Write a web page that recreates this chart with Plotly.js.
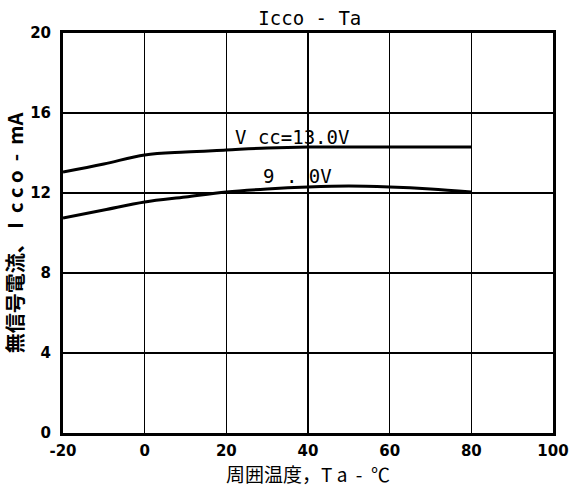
<!DOCTYPE html>
<html>
<head>
<meta charset="utf-8">
<script src="https://cdn.plot.ly/plotly-3.0.1.min.js"></script>
<style>html,body{margin:0;padding:0;background:#fff;}#chart{width:577px;height:492px;}</style>
</head>
<body>
<div id="chart"></div>
<script>
// Ambient temperature, Ta (°C)
const temps = [-20, -10, 0, 10, 20, 30, 40, 50, 60, 70, 80];
// Quiescent current Icco (mA) at Vcc = 13.0 V
const icco13 = [13.05, 13.45, 13.9, 14.05, 14.15, 14.25, 14.3, 14.3, 14.3, 14.3, 14.3];
// Quiescent current Icco (mA) at Vcc = 9.0 V
const icco9 = [10.75, 11.15, 11.55, 11.8, 12.05, 12.2, 12.3, 12.35, 12.3, 12.2, 12.05];

const xTicks = [-20, 0, 20, 40, 60, 80, 100];
const yTicks = [0, 4, 8, 12, 16, 20];

const labels = [
  {x: 36, y: 14.8, text: 'V cc=13.0V'},
  {x: 37.5, y: 12.85, text: '9 . 0V'}
];

const mono = 'DejaVu Sans Mono, monospace';
const tickFont = {family: 'DejaVu Sans, Arial, sans-serif', size: 15, color: '#000', weight: 'bold'};

const traces = [
  {x: temps, y: icco13, mode: 'lines', line: {color: '#000', width: 3, shape: 'spline'}, hoverinfo: 'skip'},
  {x: temps, y: icco9, mode: 'lines', line: {color: '#000', width: 3, shape: 'spline'}, hoverinfo: 'skip'}
];

const layout = {
  width: 577, height: 492,
  margin: {l: 63, r: 24, t: 33, b: 59},
  paper_bgcolor: '#fff', plot_bgcolor: '#fff',
  showlegend: false,
  title: {text: 'Icco - Ta', font: {family: mono, size: 19, color: '#000'}, x: 0.537, xanchor: 'center', y: 0.962, yanchor: 'middle'},
  xaxis: {
    range: [-20, 100], tickvals: xTicks, ticktext: xTicks.map(String),
    showgrid: true, gridcolor: '#000', gridwidth: 1.5,
    zeroline: false, showline: true, linecolor: '#000', linewidth: 3, mirror: true,
    ticks: '', tickfont: tickFont, ticklabelstandoff: 2,
    title: {text: '周囲温度，T a  -  ℃', font: {family: 'Noto Sans CJK JP, sans-serif', size: 19, color: '#000'}, standoff: 8}
  },
  yaxis: {
    range: [0, 20], tickvals: yTicks, ticktext: yTicks.map(String),
    showgrid: true, gridcolor: '#000', gridwidth: 2,
    zeroline: false, showline: true, linecolor: '#000', linewidth: 3, mirror: true,
    ticks: '', tickfont: tickFont, ticklabelstandoff: 6,
    title: {text: '無信号電流、 I  c c o  -  mA', font: {family: 'Noto Sans CJK JP, sans-serif', size: 20, color: '#000', weight: 'bold'}, standoff: 2}
  },
  annotations: labels.map(l => ({
    x: l.x, y: l.y, xref: 'x', yref: 'y', text: l.text, showarrow: false,
    font: {family: mono, size: 19, color: '#000'}, xanchor: 'center', yanchor: 'middle'
  }))
};

Plotly.newPlot('chart', traces, layout, {staticPlot: true, displayModeBar: false});
</script>
</body>
</html>
